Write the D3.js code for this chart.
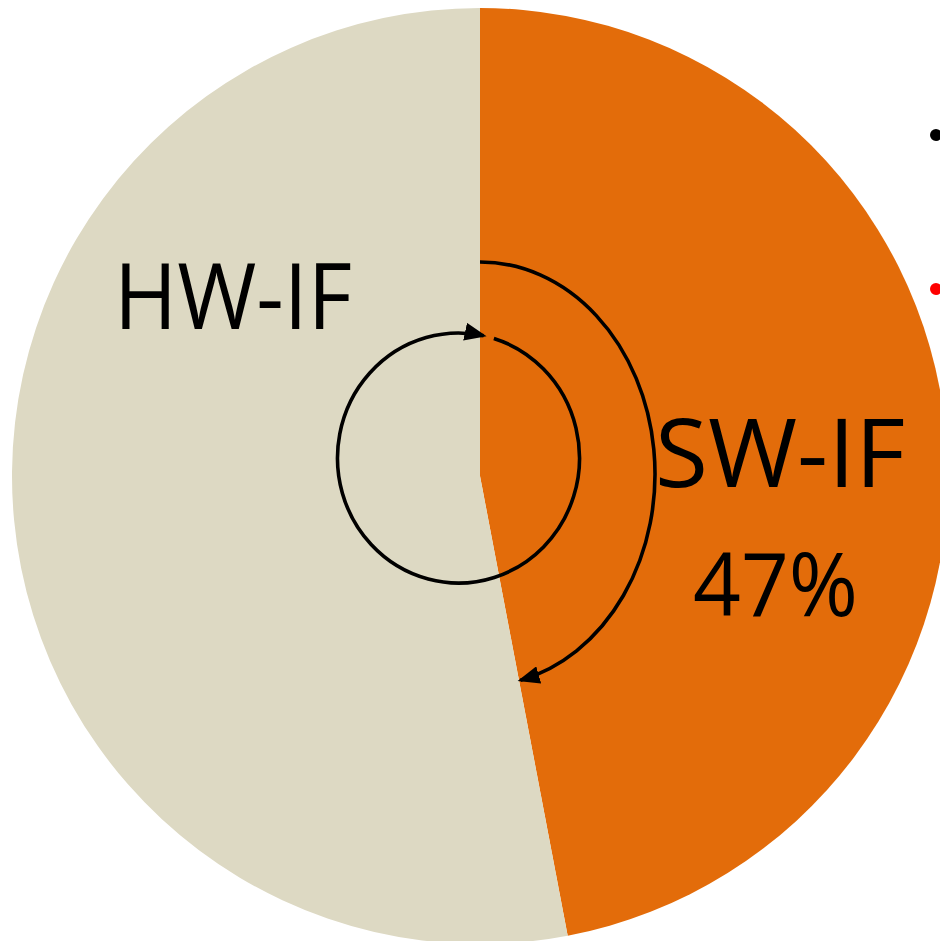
<!DOCTYPE html>
<html>
<head>
<meta charset="utf-8">
<script src="https://cdn.jsdelivr.net/npm/d3@7"></script>
<style>
  html, body { margin: 0; padding: 0; background: #fff; overflow: hidden; }
  text { font-family: "Open Sans", "Noto Sans", sans-serif; fill: #000; }
</style>
</head>
<body>
<div id="chart"></div>
<script>
// share of interference sources, percent
const categories = ['SW-IF', 'HW-IF'];
const values = [47, 53];
const colors = ['#E36C0A', '#DDD9C3'];
// labels shown on the slices ("" = no percent shown)
const percentLabels = ['47%', ''];
// bullets of the clipped text at the right edge
const bulletColors = ['#000000', '#FF0000'];

const width = 940, height = 941;
const cx = 480, cy = 476, radius = 468;

const svg = d3.select('#chart').append('svg')
    .attr('width', width)
    .attr('height', height);

const defs = svg.append('defs');
defs.append('marker')
    .attr('id', 'arrow')
    .attr('viewBox', '0 0 22 18')
    .attr('refX', 19)
    .attr('refY', 9)
    .attr('markerWidth', 22)
    .attr('markerHeight', 18)
    .attr('markerUnits', 'userSpaceOnUse')
    .attr('orient', 'auto')
  .append('path')
    .attr('d', 'M0,0 L22,9 L0,18 Z')
    .attr('fill', '#000');

const g = svg.append('g')
    .attr('transform', 'translate(' + cx + ',' + cy + ')');

const pie = d3.pie().sort(null).value(d => d)(values);
const arc = d3.arc().innerRadius(0).outerRadius(radius);

g.selectAll('path.slice')
    .data(pie)
    .enter()
    .append('path')
        .attr('class', 'slice')
        .attr('d', arc)
        .attr('fill', (d, i) => colors[i]);

// big arc following the SW-IF slice (elliptical, as drawn on the slide)
const bigRx = 175, bigRy = 212, bigCy = -2;
const endA = pie[0].endAngle - 0.045;
const ex = bigRx * Math.sin(endA), ey = bigCy - bigRy * Math.cos(endA);
g.append('path')
    .attr('d', 'M0,' + (bigCy - bigRy) + ' A' + bigRx + ',' + bigRy + ' 0 0 1 ' + ex + ',' + ey)
    .attr('fill', 'none')
    .attr('stroke', '#000')
    .attr('stroke-width', 3.6)
    .attr('marker-end', 'url(#arrow)');

// small loop arrow around the centre
const sx = -21.5, sy = -18, sRx = 121, sRy = 125;
const a0 = 17 * Math.PI / 180, a1 = 12 * Math.PI / 180;
const p0 = [sx + sRx * Math.sin(a0), sy - sRy * Math.cos(a0)];
const p1 = [sx + sRx * Math.sin(a1), sy - sRy * Math.cos(a1)];
g.append('path')
    .attr('d', 'M' + p0[0] + ',' + p0[1] + ' A' + sRx + ',' + sRy + ' 0 1 1 ' + p1[0] + ',' + p1[1])
    .attr('fill', 'none')
    .attr('stroke', '#000')
    .attr('stroke-width', 3.6)
    .attr('marker-end', 'url(#arrow)');

// labels
g.append('text')
    .attr('x', -366)
    .attr('y', -147)
    .attr('font-size', 92)
    .attr('textLength', 238)
    .attr('lengthAdjust', 'spacingAndGlyphs')
    .text(categories[1]);

g.append('text')
    .attr('x', 175)
    .attr('y', 11)
    .attr('font-size', 96)
    .attr('textLength', 250)
    .attr('lengthAdjust', 'spacingAndGlyphs')
    .text(categories[0]);

g.append('text')
    .attr('x', 213)
    .attr('y', 140)
    .attr('font-size', 88)
    .attr('textLength', 165)
    .attr('lengthAdjust', 'spacingAndGlyphs')
    .text(percentLabels[0]);

// bullet dots cut off at the right border
svg.selectAll('circle.bullet')
    .data(bulletColors)
    .enter()
    .append('circle')
        .attr('class', 'bullet')
        .attr('cx', 936)
        .attr('cy', (d, i) => 135 + i * 154)
        .attr('r', 6)
        .attr('fill', d => d);
</script>
</body>
</html>
